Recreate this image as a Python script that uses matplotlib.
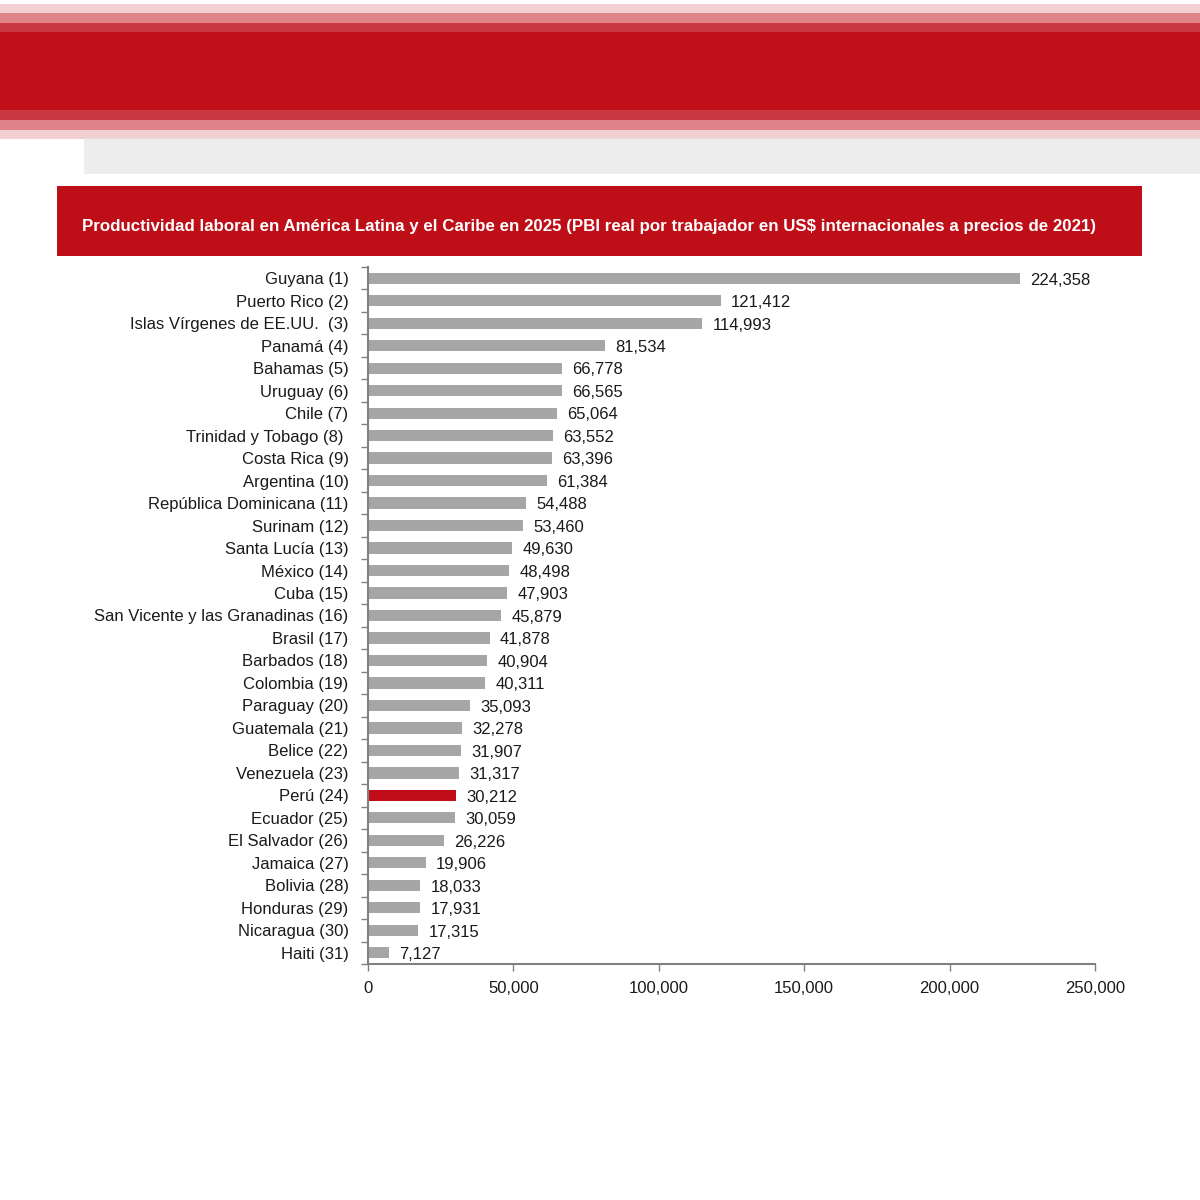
import numpy as np
import matplotlib.pyplot as plt
from matplotlib.patches import Rectangle
from matplotlib.ticker import FuncFormatter

countries = ["Guyana (1)", "Puerto Rico (2)", "Islas Vírgenes de EE.UU.  (3)", "Panamá (4)",
             "Bahamas (5)", "Uruguay (6)", "Chile (7)", "Trinidad y Tobago (8) ",
             "Costa Rica (9)", "Argentina (10)", "República Dominicana (11)", "Surinam (12)",
             "Santa Lucía (13)", "México (14)", "Cuba (15)", "San Vicente y las Granadinas (16)",
             "Brasil (17)", "Barbados (18)", "Colombia (19)", "Paraguay (20)", "Guatemala (21)",
             "Belice (22)", "Venezuela (23)", "Perú (24)", "Ecuador (25)", "El Salvador (26)",
             "Jamaica (27)", "Bolivia (28)", "Honduras (29)", "Nicaragua (30)", "Haiti (31)"]
values = [224358, 121412, 114993, 81534, 66778, 66565, 65064, 63552, 63396, 61384,
          54488, 53460, 49630, 48498, 47903, 45879, 41878, 40904, 40311, 35093,
          32278, 31907, 31317, 30212, 30059, 26226, 19906, 18033, 17931, 17315, 7127]
highlight = "Perú (24)"
title = ("Productividad laboral en América Latina y el Caribe en 2025 "
         "(PBI real por trabajador en US$ internacionales a precios de 2021)")

plt.rcParams['font.family'] = ['Liberation Sans', 'DejaVu Sans']

fig = plt.figure(figsize=(12, 12), dpi=100)
fig.patch.set_facecolor('white')

# blurred page background (top red band, grey strip)
for i, a in enumerate([0.2, 0.4, 0.65, 1.0]):
    pad = (3 - i) * 0.008
    fig.patches.append(Rectangle((0, 1 - 0.092 - pad), 1, 0.065 + 2 * pad,
                                 transform=fig.transFigure, facecolor='#c0111b',
                                 lw=0, alpha=a, zorder=0))
fig.patches.append(Rectangle((0.07, 0.855), 0.93, 0.03, transform=fig.transFigure,
                             facecolor='#e6e6e6', lw=0, alpha=0.7, zorder=0))

# title banner
fig.patches.append(Rectangle((57 / 1200, 1 - 256 / 1200), 1085 / 1200, 70 / 1200,
                             transform=fig.transFigure, facecolor='#be0e17', lw=0, zorder=1))
fig.text(589 / 1200, 1 - 226 / 1200, title, color='white', fontsize=12.2,
         fontweight='bold', ha='center', va='center')

ax = fig.add_axes([368 / 1200, 1 - 964 / 1200, 727 / 1200, 697 / 1200])
y = np.arange(len(countries))
colors = ['#c00d17' if c == highlight else '#a6a6a6' for c in countries]
ax.barh(y, values, height=0.5, color=colors)

for yi, v in zip(y, values):
    ax.text(v + 3500, yi + 0.08, f'{v:,}', va='center', ha='left', fontsize=12, color='#1a1a1a')

ax.set_xlim(0, 250000)
ax.set_ylim(len(countries) - 0.5, -0.5)
ax.set_xticks(np.arange(0, 250001, 50000))
ax.xaxis.set_major_formatter(FuncFormatter(lambda v, p: f'{int(v):,}'))
ax.tick_params(axis='x', length=5, width=1, color='#808080', labelsize=12,
               pad=7, labelcolor='#1a1a1a')

ax.set_yticks(np.arange(-0.5, len(countries), 1))
ax.set_yticklabels([])
ax.set_yticks(y, minor=True)
ax.set_yticklabels(countries, minor=True, fontsize=12, color='#1a1a1a')
ax.tick_params(axis='y', which='major', length=5, width=1, color='#808080')
ax.tick_params(axis='y', which='minor', length=0, pad=14)

for s in ['top', 'right']:
    ax.spines[s].set_visible(False)
for s in ['left', 'bottom']:
    ax.spines[s].set_color('#808080')
    ax.spines[s].set_linewidth(1.5)

plt.savefig('out.png', dpi=100, facecolor='white')
